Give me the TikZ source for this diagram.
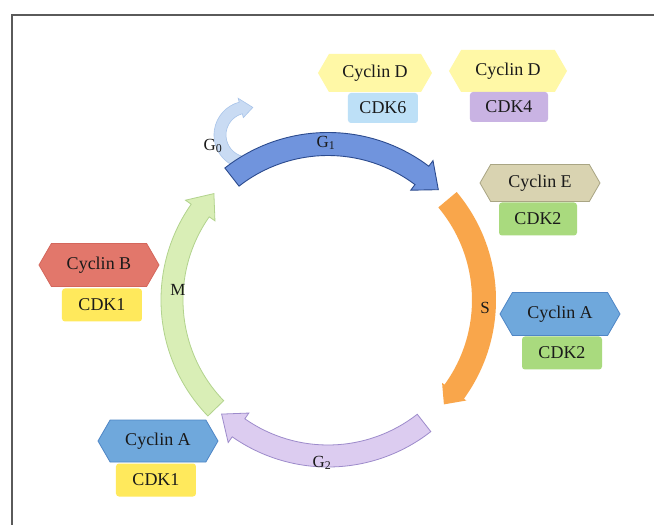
\documentclass[tikz,border=0pt]{standalone}
\usepackage{fontspec}
\setmainfont{Liberation Serif}
\usetikzlibrary{shapes.symbols}
\definecolor{cycD}{HTML}{FFF8A6}
\definecolor{cdksix}{HTML}{BDE0F7}
\definecolor{cdkfour}{HTML}{C9B3E3}
\definecolor{cycE}{HTML}{D9D3B1}
\definecolor{cycEb}{HTML}{A9A584}
\definecolor{cdktwo}{HTML}{A9DA7E}
\definecolor{cycA}{HTML}{6FA8DC}
\definecolor{cycAb}{HTML}{4F86C6}
\definecolor{cdkone}{HTML}{FFE95C}
\definecolor{cycB}{HTML}{E2776B}
\definecolor{cycBb}{HTML}{D4675C}
\definecolor{gone}{HTML}{7094DD}
\definecolor{goneb}{HTML}{2C4B8E}
\definecolor{gzero}{HTML}{C9DBF3}
\definecolor{gzerob}{HTML}{A8C4EA}
\definecolor{sph}{HTML}{F9A64B}
\definecolor{gtwo}{HTML}{DCCCF0}
\definecolor{gtwob}{HTML}{9D8BCB}
\definecolor{mph}{HTML}{D9EEB6}
\definecolor{mphb}{HTML}{B2D38D}
\definecolor{framec}{HTML}{5A5A5A}
\definecolor{txt}{HTML}{1A1A1A}
% #1 style, #2 start angle, #3 tip angle, #4 mid radius, #5 half width, #6 head angle, #7 flare
\newcommand{\bandarrow}[7]{%
  \pgfmathsetmacro\bandRo{#4+#5}%
  \pgfmathsetmacro\bandRi{#4-#5}%
  \pgfmathsetmacro\bandRof{#4+#5+#7}%
  \pgfmathsetmacro\bandRif{#4-#5-#7}%
  \pgfmathsetmacro\bandAb{#3+#6}%
  \path[#1] (#2:\bandRo pt) arc[start angle=#2, end angle=\bandAb, radius=\bandRo pt]
    -- (\bandAb:\bandRof pt) -- (#3:#4 pt) -- (\bandAb:\bandRif pt) -- (\bandAb:\bandRi pt)
    arc[start angle=\bandAb, end angle=#2, radius=\bandRi pt] -- cycle;
}
\tikzset{
  hexbox/.style={signal, signal to=west and east, signal pointer angle=120,
    minimum width=120pt, minimum height=40pt, inner sep=0pt, text=txt,
    font=\fontsize{18}{18}\selectfont},
  cdkbox/.style={rectangle, rounded corners=3pt, minimum width=78pt, minimum height=33pt,
    inner sep=0pt, text=txt, font=\fontsize{18}{18}\selectfont},
  phaselbl/.style={inner sep=0pt, text=txt, font=\fontsize{17}{17}\selectfont}
}
\begin{document}
\begin{tikzpicture}[x=1pt,y=1pt]
\useasboundingbox (-328pt,-225pt) rectangle (326pt,300pt);
\fill[white] (-328pt,-225pt) rectangle (326pt,300pt);
% frame
\draw[framec, line width=2pt] (-316pt,-226pt) -- (-316pt,285pt) -- (327pt,285pt);
% G0 small arrow
\begin{scope}[shift={(-80pt,165pt)}]
  \bandarrow{fill=gzero, draw=gzerob, line width=0.6pt}{262}{80}{28}{6}{25}{4}
\end{scope}
% main cycle arcs
\bandarrow{fill=sph}{40}{-42}{156}{12}{6}{3}
\bandarrow{fill=gtwo, draw=gtwob, line width=0.8pt}{-52}{-133}{156}{11}{8}{7}
\bandarrow{fill=mph, draw=mphb, line width=0.8pt}{224}{137}{156}{11}{8}{7}
\bandarrow{fill=gone, draw=goneb, line width=0.9pt}{128}{45}{156}{11.5}{8}{7}
% phase labels
\node[phaselbl] (lg0) at (-115pt,154pt) {G\textsubscript{0}};
\node[phaselbl] (lg1) at (-2pt,157pt) {G\textsubscript{1}};
\node[phaselbl] (ls) at (157pt,-8pt) {S};
\node[phaselbl] (lm) at (-150pt,10pt) {M};
\node[phaselbl] (lg2) at (-6pt,-163pt) {G\textsubscript{2}};
% cyclins
\node[hexbox, fill=cycD, minimum width=114pt, minimum height=38pt] (cd1) at (47pt,227pt) {Cyclin D};
\node[cdkbox, fill=cdksix, minimum width=70pt, minimum height=30pt] (k6) at (55pt,192pt) {CDK6};
\node[hexbox, fill=cycD, minimum width=118pt, minimum height=42pt] (cd2) at (180pt,229pt) {Cyclin D};
\node[cdkbox, fill=cdkfour, minimum height=30pt] (k4) at (181pt,193pt) {CDK4};
\node[hexbox, fill=cycE, draw=cycEb, line width=0.8pt, minimum height=37pt] (ce) at (212pt,117pt) {Cyclin E};
\node[cdkbox, fill=cdktwo] (k2a) at (210pt,81pt) {CDK2};
\node[hexbox, fill=cycA, draw=cycAb, line width=0.8pt, minimum height=43pt] (car) at (232pt,-14pt) {Cyclin A};
\node[cdkbox, fill=cdktwo, minimum width=80pt] (k2b) at (234pt,-53pt) {CDK2};
\node[hexbox, fill=cycB, draw=cycBb, line width=0.8pt, minimum height=43pt] (cb) at (-229pt,35pt) {Cyclin B};
\node[cdkbox, fill=cdkone, minimum width=80pt] (k1a) at (-226pt,-5pt) {CDK1};
\node[hexbox, fill=cycA, draw=cycAb, line width=0.8pt, minimum height=42pt] (cal) at (-170pt,-141pt) {Cyclin A};
\node[cdkbox, fill=cdkone, minimum width=80pt] (k1b) at (-172pt,-180pt) {CDK1};
\end{tikzpicture}
\end{document}
